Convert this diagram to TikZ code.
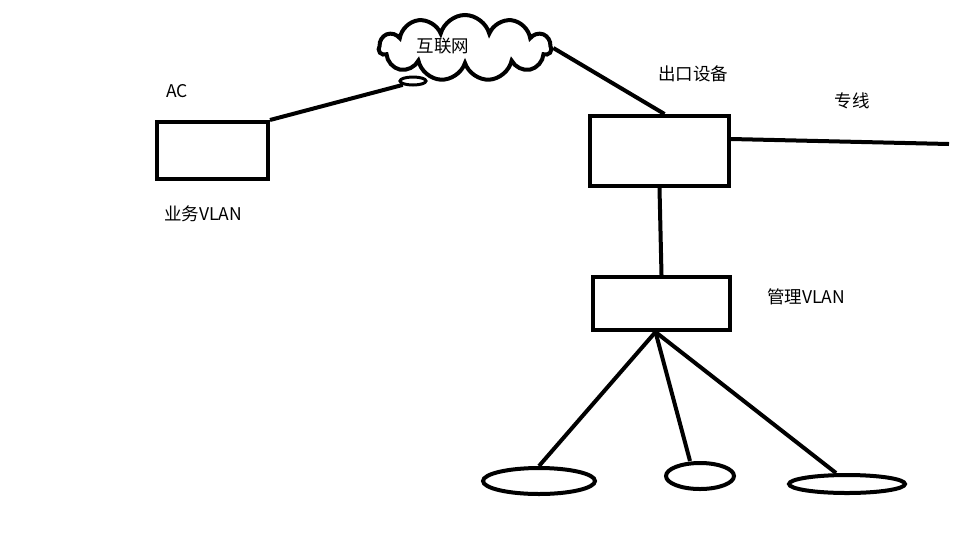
\documentclass[tikz,border=0pt]{standalone}
\usepackage{fontspec}
\setmainfont{Noto Sans CJK SC}
\usetikzlibrary{shapes.geometric,shapes.symbols}
\begin{document}
\begin{tikzpicture}[x=1pt,y=-1pt,line width=4pt,
  box/.style = {draw, rectangle, inner sep=0pt},
  host/.style = {draw, ellipse, inner sep=0pt},
  label/.style = {font=\fontsize{17.5}{20}\selectfont}]
  \useasboundingbox (0,0) rectangle (964,542);
  \node[box, minimum width=111, minimum height=57] (ac) at (212.5,150.5) {};
  \node[box, minimum width=139, minimum height=70] (exit) at (659.5,151) {};
  \node[box, minimum width=137, minimum height=53] (mgmt) at (661.5,303.5) {};
  \node[draw, cloud, cloud puffs=11, aspect=2.6, minimum width=172, minimum height=66, inner sep=0pt] (net) at (465,48) {};
  \node[host, minimum width=112, minimum height=26] (h1) at (539,481) {};
  \node[host, minimum width=68, minimum height=26] (h2) at (700,476) {};
  \node[host, minimum width=116, minimum height=18] (h3) at (847,484) {};
  \node[host, line width=3pt, minimum width=26, minimum height=8] (tail) at (413,81) {};
  \coordinate (line) at (949,144);
  %
  \node[label] (acl) at (177,91) {AC};
  \node[label] (biz) at (203,214) {业务VLAN};
  \node[label] (netl) at (443,46) {互联网};
  \node[label] (exitl) at (693,74) {出口设备};
  \node[label] (linel) at (852,101) {专线};
  \node[label] (mgmtl) at (806,297) {管理VLAN};
  %
  \draw (ac.north east) -- (tail.south west);
  \draw (net.east) -- ([xshift=5]exit.north);
  \draw ([yshift=12]exit.east) -- (line);
  \draw (exit.south) -- (mgmt.north);
  \draw ([xshift=-6]mgmt.south) -- (h1.north);
  \draw ([xshift=-6]mgmt.south) -- ([xshift=-10]h2.north);
  \draw ([xshift=-6]mgmt.south) -- ([xshift=-11]h3.north);
\end{tikzpicture}
\end{document}
